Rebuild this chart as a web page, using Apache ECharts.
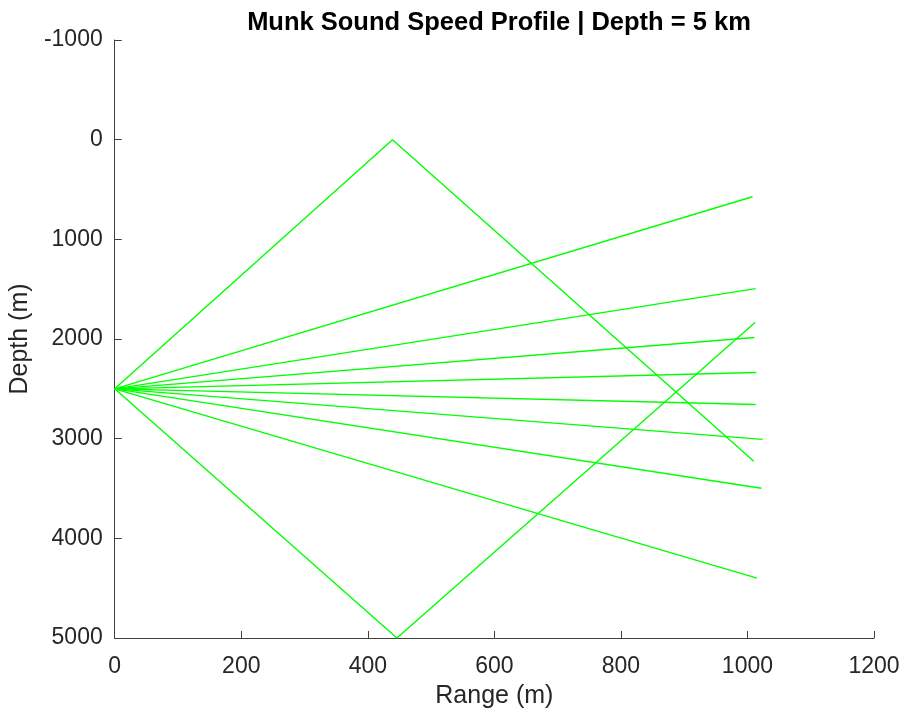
<!DOCTYPE html>
<html>
<head>
<meta charset="utf-8">
<script src="https://cdn.jsdelivr.net/npm/echarts@6/dist/echarts.min.js"></script>
<style>html,body{margin:0;padding:0;background:#fff;}#main{width:904px;height:714px;}</style>
</head>
<body>
<div id="main"></div>
<script>
// Source position
const sourceRange = 0;
const sourceDepth = 2500;
// Direct (unreflected) rays: end points
const directEndRange = [1008, 1013, 1011, 1014, 1013, 1024, 1022, 1015];
const directEndDepth = [573, 1494, 1985, 2336, 2657, 3007, 3498, 4400];
// Surface-reflected ray
const surfaceRayRange = [0, 439, 1010];
const surfaceRayDepth = [2500, 0, 3227];
// Bottom-reflected ray
const bottomRayRange = [0, 446, 1012];
const bottomRayDepth = [2500, 5000, 1835];
// Axis ticks
const xTicks = [0, 200, 400, 600, 800, 1000, 1200];
const yTicks = [-1000, 0, 1000, 2000, 3000, 4000, 5000];

const FONT = 'Liberation Sans, Arial, Helvetica, sans-serif';
const TXT = '#262626';
const AX = '#404040';

const series = [];
function addRay(r, d) {
  series.push({
    type: 'line', data: r.map((x, i) => [x, d[i]]),
    symbol: 'none', lineStyle: { color: '#00ff00', width: 1.4 },
    animation: false, silent: true, clip: false
  });
}
directEndRange.forEach((r, i) => addRay([sourceRange, r], [sourceDepth, directEndDepth[i]]));
addRay(surfaceRayRange, surfaceRayDepth);
addRay(bottomRayRange, bottomRayDepth);

const chart = echarts.init(document.getElementById('main'), null, { renderer: 'canvas' });
chart.setOption({
  backgroundColor: '#fff',
  animation: false,
  title: {
    text: 'Munk Sound Speed Profile | Depth = 5 km',
    left: 494, top: 5, textAlign: 'center',
    textStyle: { fontFamily: FONT, fontSize: 25.5, fontWeight: 'bold', color: '#000' }
  },
  grid: { left: 114, right: 30, top: 40, bottom: 75, containLabel: false },
  xAxis: {
    type: 'value', min: xTicks[0], max: xTicks[xTicks.length - 1], interval: 200,
    name: 'Range (m)', nameLocation: 'middle', nameGap: 46,
    nameTextStyle: { fontFamily: FONT, fontSize: 25, color: TXT },
    axisLine: { show: true, onZero: false, lineStyle: { color: AX, width: 1 } },
    axisTick: { show: true, inside: true, length: 7, lineStyle: { color: AX } },
    axisLabel: { fontFamily: FONT, fontSize: 23, color: TXT, margin: 17, formatter: v => String(v) },
    splitLine: { show: false }
  },
  yAxis: {
    type: 'value', inverse: true, min: yTicks[0], max: yTicks[yTicks.length - 1], interval: 1000,
    name: 'Depth (m)', nameLocation: 'middle', nameGap: 65,
    nameTextStyle: { fontFamily: FONT, fontSize: 25, color: TXT },
    axisLine: { show: true, onZero: false, lineStyle: { color: AX, width: 1 } },
    axisTick: { show: true, inside: true, length: 7, lineStyle: { color: AX } },
    axisLabel: { fontFamily: FONT, fontSize: 23, color: TXT, margin: 12, formatter: v => String(v) },
    splitLine: { show: false }
  },
  series: series
});
</script>
</body>
</html>
